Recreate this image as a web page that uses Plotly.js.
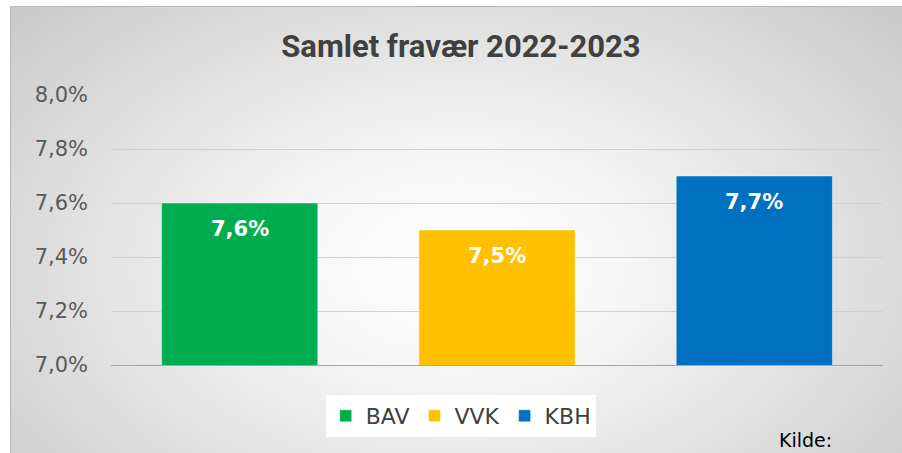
<!DOCTYPE html>
<html>
<head>
<meta charset="utf-8">
<script src="https://cdn.plot.ly/plotly-3.0.1.min.js"></script>
<style>
  html, body { margin: 0; padding: 0; background: #ffffff; }
  #bg {
    position: absolute; left: 10px; top: 6px; width: 892px; height: 447px;
    border-top: 1px solid #b8b8b8; border-left: 1px solid #b8b8b8;
    background: radial-gradient(ellipse 75% 95% at 50% 58%, #ffffff 0%, #f6f6f6 25%, #e2e2e2 55%, #cdcdcd 85%, #c4c4c4 100%);
  }
  #chart { position: absolute; left: 0; top: 0; width: 902px; height: 453px; }
</style>
</head>
<body>
<div id="bg"></div>
<div id="chart"></div>
<script>
const categories = ["BAV", "VVK", "KBH"];
const values = [7.6, 7.5, 7.7];
const colors = ["#00ad4e", "#ffc000", "#0070c0"];
const yTicks = [7.0, 7.2, 7.4, 7.6, 7.8, 8.0];
const yTickLabels = ["7,0%", "7,2%", "7,4%", "7,6%", "7,8%", "8,0%"];
const titleText = "Samlet fravær 2022-2023";
const sourceText = "Kilde:";

const traces = categories.map((c, i) => ({
  type: "bar",
  name: c,
  x: [c],
  y: [values[i]],
  width: 0.607,
  marker: { color: colors[i], line: { color: "rgba(255,255,255,0.45)", width: 1 } },
  hoverinfo: "skip"
}));

const annotations = categories.map((c, i) => ({
  x: c, y: values[i], xref: "x", yref: "y",
  text: values[i].toFixed(1).replace(".", ",") + "%",
  showarrow: false, yanchor: "middle", yshift: -26,
  font: { family: "DejaVu Sans", size: 21, color: "#ffffff", weight: 700 }
}));
annotations.push({
  x: 0.899, y: -0.278, xref: "paper", yref: "paper",
  text: sourceText, showarrow: false, xanchor: "center", yanchor: "middle",
  font: { family: "DejaVu Sans", size: 19, color: "#000000" }
});

const layout = {
  width: 902, height: 453,
  paper_bgcolor: "rgba(0,0,0,0)",
  plot_bgcolor: "rgba(0,0,0,0)",
  margin: { l: 111, r: 19, t: 95, b: 88 },
  separators: ",.",
  barmode: "overlay",
  title: {
    text: titleText, x: 0.511, xanchor: "center", y: 0.898, yanchor: "middle",
    xref: "container",
    font: { family: "Roboto", size: 31, color: "#404040", weight: 700 }
  },
  xaxis: {
    type: "category", showticklabels: false, ticks: "",
    showline: true, linecolor: "#a6a6a6", linewidth: 1, showgrid: false,
    range: [-0.5, 2.5], fixedrange: true
  },
  yaxis: {
    range: [7.0, 8.0], tickmode: "array", tickvals: yTicks, ticktext: yTickLabels,
    showgrid: true, gridcolor: "#d0d0d0", gridwidth: 1, zeroline: false,
    ticks: "", ticklabelstandoff: 22,
    tickfont: { family: "DejaVu Sans", size: 21, color: "#595959" },
    fixedrange: true
  },
  showlegend: true,
  legend: {
    orientation: "h", x: 0.453, xanchor: "center", y: -0.189, yanchor: "middle",
    bgcolor: "#ffffff", font: { family: "DejaVu Sans", size: 22, color: "#404040" },
    traceorder: "normal", itemclick: false, itemdoubleclick: false
  },
  annotations: annotations
};

Plotly.newPlot("chart", traces, layout, { displayModeBar: false, staticPlot: true });
</script>
</body>
</html>
